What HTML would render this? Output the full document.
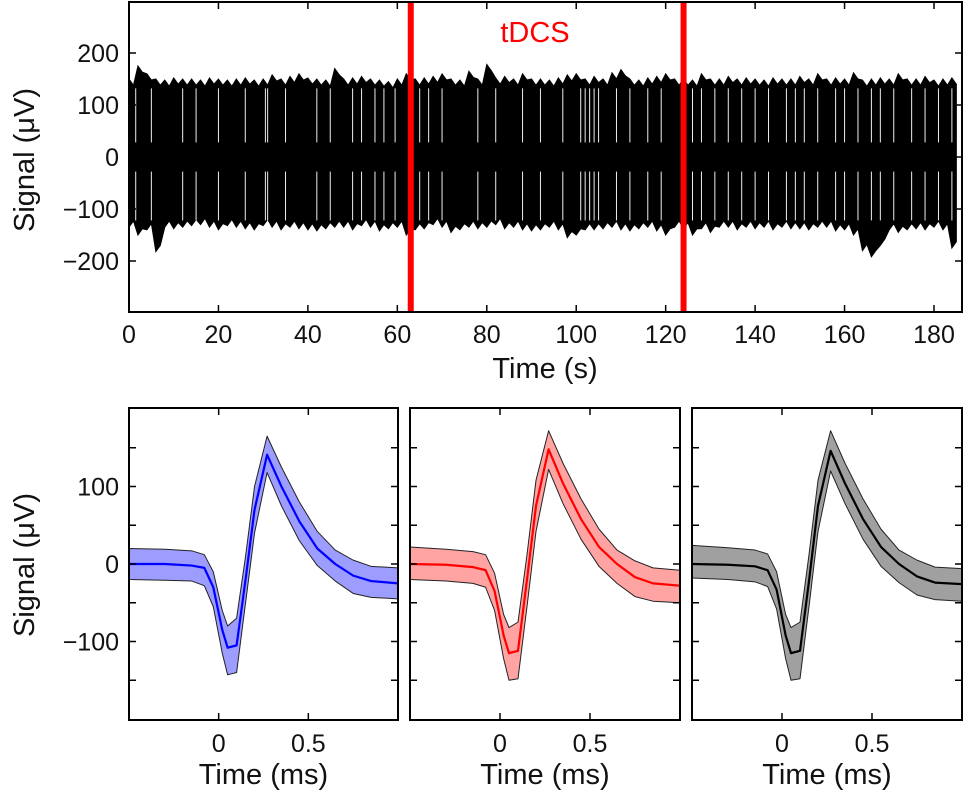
<!DOCTYPE html>
<html><head><meta charset="utf-8">
<style>
body{margin:0;background:#fff;}
svg{display:block;font-family:"Liberation Sans","DejaVu Sans",sans-serif;}
</style></head>
<body>
<svg id="fig" width="967" height="791" viewBox="0 0 967 791" xmlns="http://www.w3.org/2000/svg">
<g id="topchart"></g>
<g id="bottom"></g>
</svg>
<script>
// ---- top chart data (2 s bins) ----
const binSeconds = 2;
const upperEnv = [150,175,160,150,148,152,150,150,148,152,150,148,150,152,148,150,158,150,155,160,152,150,148,170,150,152,155,150,148,145,
  150,160,150,152,155,160,150,148,165,150,178,152,155,150,160,150,150,148,152,158,160,150,155,150,162,168,150,148,152,155,
  160,150,150,148,160,150,150,155,150,152,150,148,152,150,150,155,150,160,150,152,150,162,148,150,152,150,160,150,150,155,148,150,152];
const lowerEnv = [-135,-150,-140,-182,-135,-138,-135,-132,-130,-135,-140,-132,-135,-138,-140,-132,-135,-140,-135,-138,-140,-142,-138,-135,-135,-140,-132,-135,-142,-138,
  -135,-150,-140,-138,-130,-135,-145,-140,-135,-138,-135,-130,-138,-135,-140,-142,-140,-135,-140,-155,-150,-140,-140,-138,-135,-140,-142,-138,-135,-142,
  -150,-135,-138,-150,-138,-145,-135,-135,-140,-135,-138,-135,-140,-135,-138,-138,-140,-135,-135,-142,-140,-150,-180,-192,-170,-140,-145,-140,-138,-140,-135,-140,-175];
const gapTimes = [1.5,5,12,15,20,26,30.5,31,35,42,45,50,52,55,57,59.5,65,67,70,78,82,88,92,97,101,102,103,104,105,109,112,116,119,126,128,131,134,137,140,143,147,149,151,154,158,160,163,166,168,171,175,178,181,184];
const stimTimes = [63, 124];
const topXTicks = [0,20,40,60,80,100,120,140,160,180];
const topYTicks = [200,100,0,-100,-200];
const topYTickLabels = ["200","100","0","\u2212100","\u2212200"];

// ---- bottom waveform data ----
const waveT = [-0.5,-0.3,-0.15,-0.08,-0.03,0.02,0.05,0.1,0.15,0.2,0.27,0.35,0.45,0.55,0.65,0.75,0.85,1.0];
const blueMean  = [0,0,-2,-5,-30,-85,-108,-105,-20,70,141,100,55,20,0,-15,-22,-25];
const blueUpper = [20,19,17,12,-10,-60,-80,-70,10,100,165,125,80,42,18,5,-3,-5];
const blueLower = [-20,-21,-22,-28,-55,-115,-143,-140,-50,40,118,75,30,-2,-22,-38,-43,-45];
const redMean   = [0,-1,-4,-8,-35,-92,-115,-112,-20,75,148,104,58,22,0,-17,-25,-28];
const redUpper  = [22,19,16,12,-12,-65,-82,-75,12,108,172,130,84,45,18,4,-5,-8];
const redLower  = [-20,-22,-25,-30,-60,-122,-150,-148,-55,42,122,78,32,-3,-25,-42,-48,-50];
const grayMean  = [0,-1,-3,-8,-33,-92,-115,-112,-22,75,146,104,58,22,0,-16,-24,-26];
const grayUpper = [24,21,18,13,-10,-65,-82,-75,12,108,172,130,84,45,18,5,-4,-6];
const grayLower = [-18,-20,-23,-29,-58,-122,-150,-148,-55,42,120,78,32,-3,-24,-40,-46,-48];
const waveYTicks = [100,0,-100];
const waveYTickLabels = ["100","0","\u2212100"];
const waveYMinor = [150,50,-50,-150];
const waveXTicks = [0,0.5];
const waveXTickLabels = ["0","0.5"];

const NS="http://www.w3.org/2000/svg";
function mk(tag, attrs, parent){const e=document.createElementNS(NS,tag);for(const k in attrs)e.setAttribute(k,attrs[k]);parent.appendChild(e);return e;}

// ---- top chart ----
const topG=document.getElementById('topchart');
const T={l:129,r:962,t:2,b:312};
const tx=v=>T.l+(v-0)*(934-129)/180;
const ty=v=>157-v*0.52;
let pts=[];
upperEnv.forEach((v,i)=>{pts.push(tx(i*binSeconds)+','+ty(v));pts.push(tx(i*binSeconds+binSeconds*0.5)+','+ty(v-12));});
for(let i=lowerEnv.length-1;i>=0;i--){pts.push(tx(i*binSeconds+binSeconds*0.5)+','+ty(lowerEnv[i]+12));pts.push(tx(i*binSeconds)+','+ty(lowerEnv[i]));}
const env=mk('polygon',{points:pts.join(' '),fill:'#000',stroke:'#000','stroke-width':1},topG);


gapTimes.forEach(g=>{
  const a=mk('line',{x1:tx(g),x2:tx(g),y1:ty(132),y2:ty(28),stroke:'#eee','stroke-width':1},topG);
  
  
  const b=mk('line',{x1:tx(g),x2:tx(g),y1:ty(-28),y2:ty(-122),stroke:'#eee','stroke-width':1},topG);
  
  
});
mk('rect',{x:T.r+1,y:0,width:10,height:320,fill:'#fff'},topG);
stimTimes.forEach(s=>{
  const l=mk('line',{x1:tx(s),x2:tx(s),y1:T.t,y2:T.b,stroke:'#f00','stroke-width':6},topG);
  
  
});
const frame=mk('rect',{x:T.l,y:T.t,width:T.r-T.l,height:T.b-T.t,fill:'none',stroke:'#000','stroke-width':2},topG);


topXTicks.forEach(v=>{
  mk('line',{x1:tx(v),x2:tx(v),y1:T.b,y2:T.b-7,stroke:'#000','stroke-width':1.5},topG);
  mk('line',{x1:tx(v),x2:tx(v),y1:T.t,y2:T.t+7,stroke:'#000','stroke-width':1.5},topG);
  const t=mk('text',{x:tx(v),y:343,'font-size':25,'text-anchor':'middle',fill:'#111'},topG);
  t.textContent=v;
  
  
});
topYTicks.forEach((v,i)=>{
  mk('line',{x1:T.l,x2:T.l+7,y1:ty(v),y2:ty(v),stroke:'#000','stroke-width':1.5},topG);
  mk('line',{x1:T.r,x2:T.r-7,y1:ty(v),y2:ty(v),stroke:'#000','stroke-width':1.5},topG);
  const t=mk('text',{x:119,y:ty(v)+9,'font-size':25,'text-anchor':'end',fill:'#111'},topG);
  t.textContent=topYTickLabels[i];
  
  
});
let t1=mk('text',{x:545,y:378,'font-size':29,'text-anchor':'middle',fill:'#111'},topG);
t1.textContent='Time (s)';


t1=mk('text',{x:0,y:0,'font-size':29,'text-anchor':'middle',fill:'#111',transform:'translate(34,160) rotate(-90)'},topG);
t1.textContent='Signal (\u03bcV)';


t1=mk('text',{x:535,y:42,'font-size':29,'text-anchor':'middle',fill:'#f00'},topG);
t1.textContent='tDCS';



// ---- bottom panels ----
const bot=document.getElementById('bottom');
const panels=[
 {l:129,r:398,mean:blueMean,up:blueUpper,lo:blueLower,fill:'#9d9dff',line:'#0000ff',name:'baseline'},
 {l:410,r:680,mean:redMean,up:redUpper,lo:redLower,fill:'#ffa3a3',line:'#ff0000',name:'tdcs'},
 {l:692,r:962,mean:grayMean,up:grayUpper,lo:grayLower,fill:'#a0a0a0',line:'#000000',name:'post'}];
const PT=408,PB=720;
const wy=v=>564-v*0.775;
panels.forEach((p,pi)=>{
  const g=mk('g',{},bot);
  
  
  const wx=v=>p.l+(v+0.5)*(p.r-p.l)/1.5;
  let bp=waveT.map((t,i)=>wx(t)+','+wy(p.up[i]));
  for(let i=waveT.length-1;i>=0;i--)bp.push(wx(waveT[i])+','+wy(p.lo[i]));
  const band=mk('polygon',{points:bp.join(' '),fill:p.fill,stroke:'#222','stroke-width':1,'stroke-linejoin':'round'},g);
  
  
  const ml=mk('polyline',{points:waveT.map((t,i)=>wx(t)+','+wy(p.mean[i])).join(' '),fill:'none',stroke:p.line,'stroke-width':2.2,'stroke-linejoin':'round'},g);
  
  
  const fr=mk('rect',{x:p.l,y:PT,width:p.r-p.l,height:PB-PT,fill:'none',stroke:'#000','stroke-width':2},g);
  
  
  waveYTicks.concat(waveYMinor).forEach(v=>{
    mk('line',{x1:p.l,x2:p.l+7,y1:wy(v),y2:wy(v),stroke:'#000','stroke-width':1.5},g);
    mk('line',{x1:p.r,x2:p.r-7,y1:wy(v),y2:wy(v),stroke:'#000','stroke-width':1.5},g);
  });
  waveXTicks.forEach((v,i)=>{
    mk('line',{x1:wx(v),x2:wx(v),y1:PB,y2:PB-7,stroke:'#000','stroke-width':1.5},g);
    mk('line',{x1:wx(v),x2:wx(v),y1:PT,y2:PT+7,stroke:'#000','stroke-width':1.5},g);
    const t=mk('text',{x:wx(v),y:752,'font-size':25,'text-anchor':'middle',fill:'#111'},g);
    t.textContent=waveXTickLabels[i];
    
    
  });
  const xt=mk('text',{x:(p.l+p.r)/2,y:784,'font-size':29,'text-anchor':'middle',fill:'#111'},g);
  xt.textContent='Time (ms)';
  
  
  if(pi===0){
    waveYTicks.forEach((v,i)=>{
      const t=mk('text',{x:119,y:wy(v)+9,'font-size':25,'text-anchor':'end',fill:'#111'},g);
      t.textContent=waveYTickLabels[i];
      
      
    });
    const yt=mk('text',{x:0,y:0,'font-size':29,'text-anchor':'middle',fill:'#111',transform:'translate(34,565) rotate(-90)'},g);
    yt.textContent='Signal (\u03bcV)';
    
    
  }
});
</script>
</body></html>
